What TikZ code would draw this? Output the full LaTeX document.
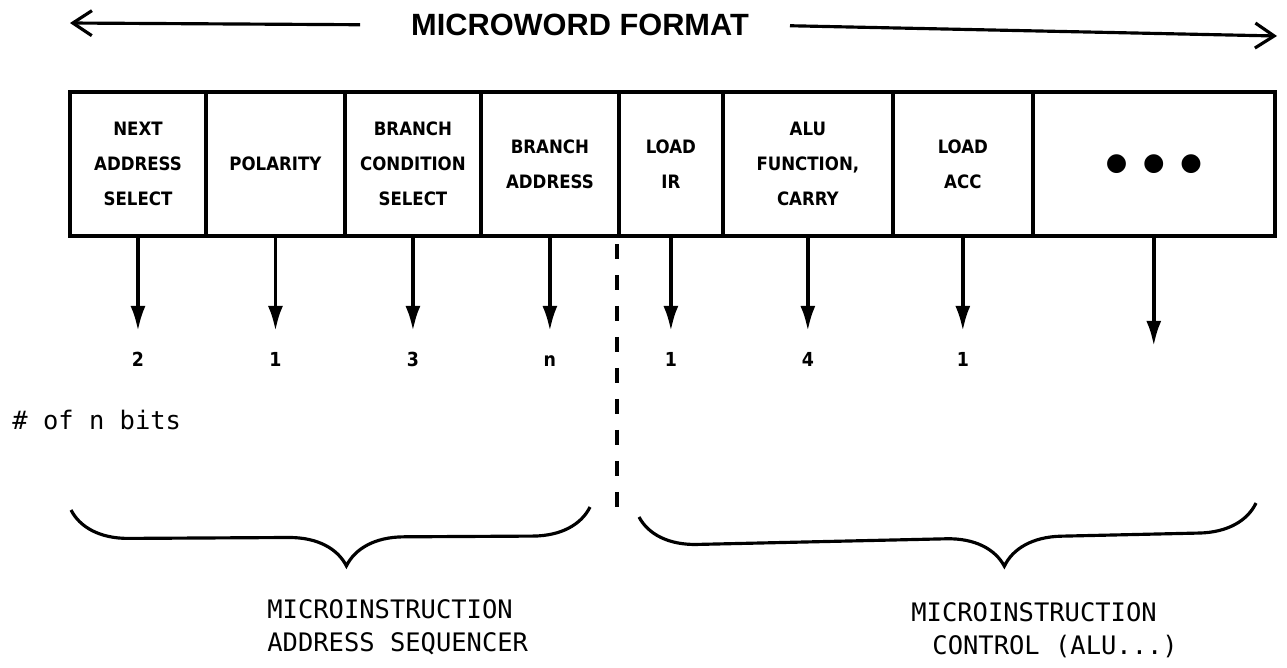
\documentclass[tikz,border=0pt]{standalone}
\usepackage{fontspec}
\setmainfont{DejaVu Sans}
\newfontfamily\fieldfont{DejaVuSansCondensed-Bold.ttf}
\newfontfamily\headfont{Liberation Sans}
\newfontfamily\notefont{DejaVu Sans Mono}
\newfontfamily\dotfont{DejaVu Sans}
\usetikzlibrary{arrows.meta,positioning,decorations.pathreplacing}

\begin{document}
\begin{tikzpicture}[x=0.02cm,y=-0.02cm,>=Latex,
  field/.style={draw,line width=2.2pt,outer sep=0pt,inner sep=0pt,minimum height=2.88cm,align=center,font=\fieldfont\fontsize{10.5}{20}\selectfont},
  bits/.style={font=\fieldfont\fontsize{11}{12}\selectfont,text height=8pt,text depth=0pt},
  bitarrow/.style={-{Latex[length=0.5cm,width=0.3cm]},line width=2pt,shorten >=0.3cm},
  spanarrow/.style={-{Straight Barb[length=0.38cm,width=0.5cm]},line width=1.8pt},
  group/.style={decorate,decoration={brace,amplitude=1.15cm},line width=1.8pt},
  note/.style={font=\notefont\fontsize{14.5}{19}\selectfont,align=left,inner sep=0pt}]
  \useasboundingbox (0,0) rectangle (1287,667);

  % title with span arrows
  \node[font=\headfont\bfseries\fontsize{17.5}{18}\selectfont] (title) at (580,25) {MICROWORD FORMAT};
  \coordinate (leftEnd) at (70,23);
  \coordinate (rightEnd) at (1277,36);
  \draw[spanarrow,shorten <=0.9cm] (title.west) -- (leftEnd);
  \draw[spanarrow,shorten <=0.7cm] (title.east) -- (rightEnd);

  % microword fields
  \node[field,minimum width=2.72cm,anchor=north west] (nas) at (70,92) {NEXT\\ADDRESS\\SELECT};
  \node[field,minimum width=2.78cm,right=0pt of nas] (pol) {POLARITY};
  \node[field,minimum width=2.72cm,right=0pt of pol] (bcs) {BRANCH\\CONDITION\\SELECT};
  \node[field,minimum width=2.76cm,right=0pt of bcs] (ba) {BRANCH\\ADDRESS};
  \node[field,minimum width=2.08cm,right=0pt of ba] (lir) {LOAD\\IR};
  \node[field,minimum width=3.40cm,right=0pt of lir] (alu) {ALU\\FUNCTION,\\CARRY};
  \node[field,minimum width=2.80cm,right=0pt of alu] (lacc) {LOAD\\ACC};
  \node[field,minimum width=4.84cm,right=0pt of lacc] (more) {\raisebox{-5pt}{\dotfont\fontsize{14}{14}\selectfont ●\hspace{9pt}●\hspace{9pt}●}};

  % bit counts
  \node[bits,below=2.2cm of nas] (nasBits) {2};
  \node[bits,below=2.2cm of pol] (polBits) {1};
  \node[bits,below=2.2cm of bcs] (bcsBits) {3};
  \node[bits,below=2.2cm of ba] (baBits) {n};
  \node[bits,below=2.2cm of lir] (lirBits) {1};
  \node[bits,below=2.2cm of alu] (aluBits) {4};
  \node[bits,below=2.2cm of lacc] (laccBits) {1};
  \coordinate[below=2.2cm of more] (moreTip);
  \draw[bitarrow] (nas) -- (nasBits);
  \draw[bitarrow] (pol) -- (polBits);
  \draw[bitarrow] (bcs) -- (bcsBits);
  \draw[bitarrow] (ba) -- (baBits);
  \draw[bitarrow] (lir) -- (lirBits);
  \draw[bitarrow] (alu) -- (aluBits);
  \draw[bitarrow] (lacc) -- (laccBits);
  \draw[bitarrow,shorten >=0pt] (more.south -| moreTip) -- (moreTip);

  \node[note,anchor=west] (nbits) at (12,420) {\# of n bits};

  % split between the two parts
  \coordinate (splitTop) at (617,244);
  \coordinate (splitBot) at (617,510);
  \draw[line width=1.8pt,dash pattern=on 0.3cm off 0.32cm] (splitTop) -- (splitBot);

  % braces
  \coordinate (seqL) at (71,510);
  \coordinate (seqR) at (590,507);
  \coordinate (ctlL) at (639,517);
  \coordinate (ctlR) at (1256,503);
  \draw[group,decoration={aspect=0.47}] (seqR) -- (seqL);
  \draw[group,decoration={aspect=0.41}] (ctlR) -- (ctlL);

  \node[note,anchor=west] (seqText) at (267,627) {MICROINSTRUCTION\\ADDRESS SEQUENCER};
  \node[note,anchor=west] (ctlText) at (911,630) {MICROINSTRUCTION\\\hspace*{12pt}CONTROL (ALU...)};
\end{tikzpicture}
\end{document}
